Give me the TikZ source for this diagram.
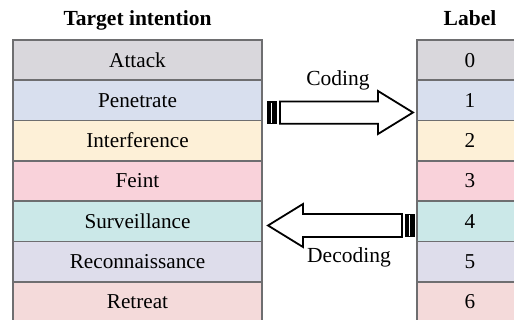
\documentclass[tikz,border=0pt]{standalone}
\usepackage{fontspec}
\setmainfont{Liberation Serif}
\definecolor{rowline}{HTML}{6E6E70}
\definecolor{cAttack}{HTML}{D9D7DC}
\definecolor{cPen}{HTML}{D8DFEE}
\definecolor{cInt}{HTML}{FDF0D7}
\definecolor{cFeint}{HTML}{F9D2DA}
\definecolor{cSurv}{HTML}{CBE8E8}
\definecolor{cRec}{HTML}{DEDDEB}
\definecolor{cRet}{HTML}{F4DADA}
\begin{document}
\begin{tikzpicture}[x=1pt,y=-1pt,
  cell/.style={draw=rowline,line width=1.6pt,inner sep=0pt,
    minimum height=40.3pt,text height=13.8pt,text depth=0pt,
    font=\fontsize{21.2}{25}\selectfont},
  leftcell/.style={cell,minimum width=249pt},
  rightcell/.style={cell,minimum width=106pt},
  title/.style={anchor=base,inner sep=0pt,font=\bfseries\fontsize{21.5}{25}\selectfont},
  caption/.style={anchor=base,inner sep=0pt,font=\fontsize{21.5}{25}\selectfont},
  fatarrow/.style={draw=black,fill=white,line width=1.8pt,line join=miter},
  stripe/.style={fill=black},
  stripegap/.style={draw=white,line width=1.1pt}]
\useasboundingbox (0,0) rectangle (514,320);
\clip (0,0) rectangle (514,320);

% column headings
\node[title] (hleft) at (137.5,26) {Target intention};
\node[title] (hright) at (470,26) {Label};

% the two tables, row by row
\foreach \i/\c/\t in {0/cAttack/Attack,1/cPen/Penetrate,2/cInt/Interference,
    3/cFeint/Feint,4/cSurv/Surveillance,5/cRec/Reconnaissance,6/cRet/Retreat}{
  \node[leftcell,fill=\c] (intent\i) at (137.5,60.15+40.3*\i) {\t};
  \node[rightcell,fill=\c] (label\i) at (470,60.15+40.3*\i) {\i};
}

% coding arrow (left to right): two tail stripes, then the body
\fill[stripe] (266.5,101.3) rectangle (276.5,124);
\draw[stripegap] (271.6,102.6) -- (271.6,122.7);
\draw[fatarrow] (280,101.5) -- (378,101.5) -- (378,91) -- (413,112.5)
  -- (378,134) -- (378,123.8) -- (280,123.8) -- cycle;
\node[caption] (coding) at (338,86) {Coding};

% decoding arrow (right to left): body, then two tail stripes
\draw[fatarrow] (402,214) -- (303,214) -- (303,204) -- (268,225.5)
  -- (303,247) -- (303,237) -- (402,237) -- cycle;
\fill[stripe] (405,213.8) rectangle (414.8,237.2);
\draw[stripegap] (409.9,215.1) -- (409.9,235.9);
\node[caption] (decoding) at (349,263) {Decoding};
\end{tikzpicture}
\end{document}
